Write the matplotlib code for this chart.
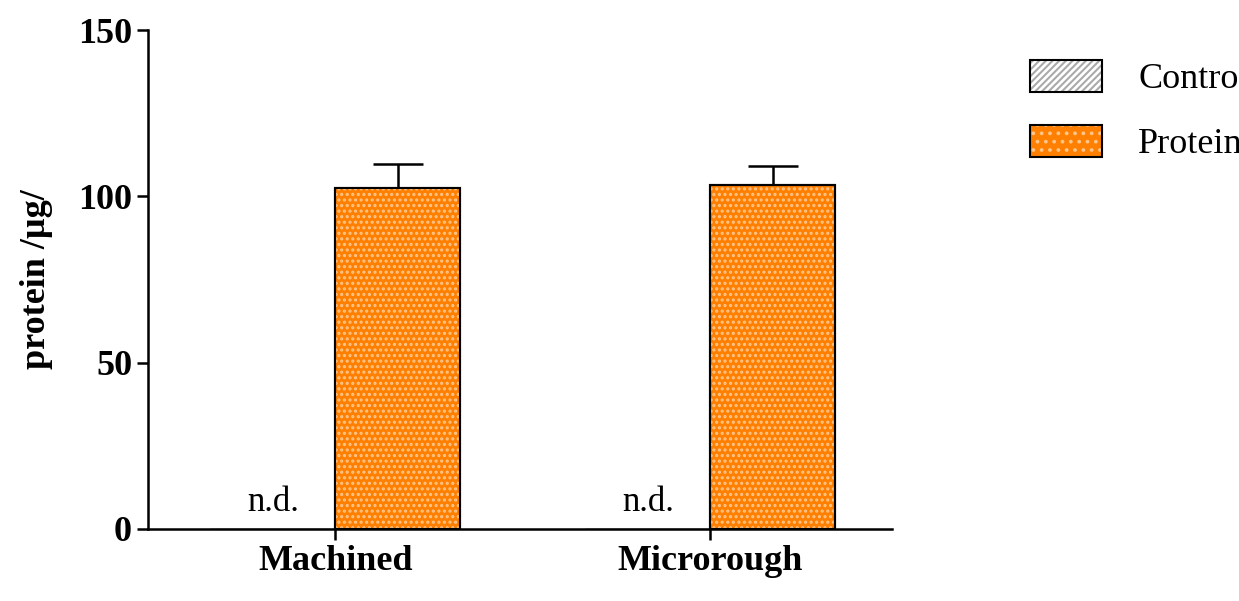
import matplotlib.pyplot as plt
import numpy as np
from matplotlib.patches import Patch

plt.rcParams['font.family'] = ['Liberation Serif', 'DejaVu Serif']
plt.rcParams['hatch.linewidth'] = 1.5

categories = ['Machined', 'Microrough']
protein_vals = [102.5, 103.4]
protein_err = [7.2, 5.7]
control_vals = [0, 0]

orange = '#ff8000'
w = 1 / 3
x = np.arange(len(categories))

fig = plt.figure(figsize=(12.39, 6.01), dpi=100)
ax = fig.add_axes([0.1195, 0.12, 0.6005, 0.83])

ax.bar(x - w / 2, control_vals, w, color='white', edgecolor='black', hatch='////')
ax.errorbar(x + w / 2, protein_vals, yerr=[[0, 0], protein_err], fmt='none',
            ecolor='black', elinewidth=1.8, capsize=18, capthick=1.8, zorder=1)
ax.bar(x + w / 2, protein_vals, w, color=orange, edgecolor='black', linewidth=1.5, zorder=2)
ax.bar(x + w / 2, protein_vals, w, color='none', edgecolor='#ffc58a', linewidth=0,
       hatch='...', zorder=3)
ax.bar(x + w / 2, protein_vals, w, color='none', edgecolor='black', linewidth=1.5, zorder=4)

for xi in x:
    ax.text(xi - w / 2 - 0.0, 3, 'n.d.', ha='center', va='bottom', fontsize=25)

ax.set_xlim(-0.499, 1.485)
ax.set_ylim(0, 150)
ax.set_yticks([0, 50, 100, 150])
ax.set_xticks(x)
ax.set_xticklabels(categories, fontsize=26, fontweight='bold')
ax.tick_params(axis='y', labelsize=26, width=1.8, length=8)
ax.tick_params(axis='x', width=1.8, length=8)
for lbl in ax.get_yticklabels():
    lbl.set_fontweight('bold')
ax.set_ylabel('protein /µg/', fontsize=26, fontweight='bold', labelpad=18)
for s in ['top', 'right']:
    ax.spines[s].set_visible(False)
for s in ['left', 'bottom']:
    ax.spines[s].set_linewidth(1.8)

ctrl_h = (Patch(facecolor='white', edgecolor='#aaaaaa', hatch='/////', linewidth=0),
          Patch(facecolor='none', edgecolor='black', linewidth=1.5))
prot_h = (Patch(facecolor=orange, edgecolor='#ffc58a', hatch='..', linewidth=0),
          Patch(facecolor='none', edgecolor='black', linewidth=1.5))
fig.legend(handles=[ctrl_h, prot_h], labels=['Control', 'Proteins'], loc='upper left',
           bbox_to_anchor=(0.805, 0.955), frameon=False, fontsize=26,
           handlelength=2.0, handleheight=1.0, labelspacing=0.8, handletextpad=1.0)

fig.savefig('out.png')
